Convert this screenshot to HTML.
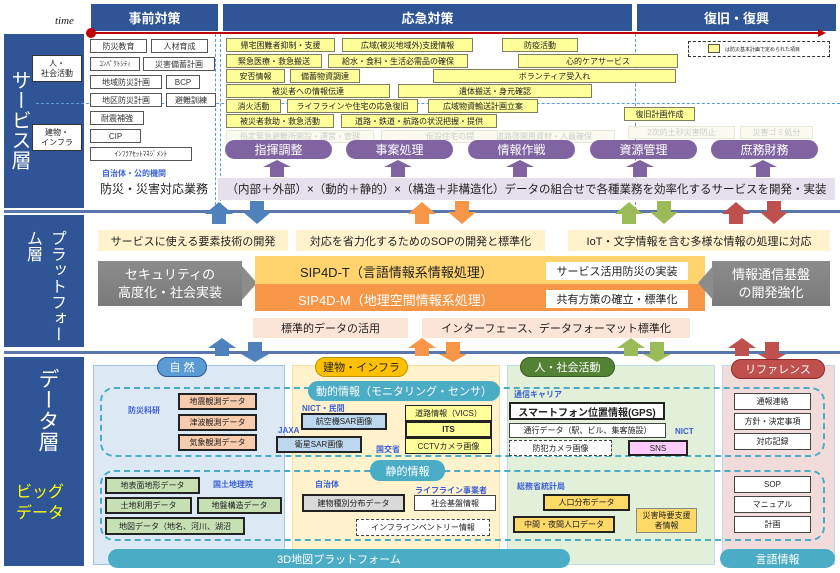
<!DOCTYPE html>
<html><head><meta charset="utf-8">
<style>
*{box-sizing:border-box;margin:0;padding:0}
body{width:840px;height:573px;overflow:hidden;background:#fff;position:relative;font-family:"Liberation Sans","Noto Sans CJK JP",sans-serif;color:#222}
div{position:absolute}
.c{display:flex;align-items:center;justify-content:center;text-align:center;white-space:nowrap}
.hd{background:#2f5597;color:#fff;font-size:13px;font-weight:bold}
.g{border:1px solid #555;background:#fff;font-size:8px;color:#333;height:14px}
.y{border:1px solid #7f7f5f;background:#ffff99;font-size:8px;color:#222;height:14px}
.f{border:1px solid #e8e8d8;background:#fafaf0;font-size:8px;color:#ccc;height:13px}
.pp{background:#8064a2;color:#fff;font-size:12px;border-radius:10px;height:19px}
.bx{border:2px solid #222;font-size:8px;color:#222}
.th{border:1px solid #444;font-size:8px;background:#fff}
.bl{color:#3a5fd6;font-size:8px;font-weight:bold}
.pl{font-size:11px;background:#fff2cc;color:#222}
</style></head><body>
<!-- header -->
<div style="left:55px;top:15px;font-family:'Liberation Serif',serif;font-style:italic;font-size:11px">time</div>
<div class="c hd" style="left:91px;top:4px;width:127px;height:27px">事前対策</div>
<div class="c hd" style="left:223px;top:4px;width:409px;height:27px">応急対策</div>
<div class="c hd" style="left:637px;top:4px;width:199px;height:27px">復旧・復興</div>
<div style="left:91px;top:32px;width:730px;height:2px;background:#c00000"></div>
<div style="left:818px;top:29px;width:0;height:0;border-left:8px solid #c00000;border-top:4px solid transparent;border-bottom:4px solid transparent"></div>
<div style="left:86px;top:28px;width:10px;height:10px;border-radius:50%;background:#c00000"></div>

<!-- service layer left -->
<div style="left:4px;top:34px;width:80px;height:174px;background:#2f5597"></div>
<div style="left:8px;top:70px;width:22px;color:#fff;font-size:20px;line-height:22px;writing-mode:vertical-rl">サービス層</div>
<div class="c" style="left:32px;top:55px;width:50px;height:27px;background:#fff;border:1px solid #333;font-size:8px;line-height:10px;white-space:normal">人・<br>社会活動</div>
<div class="c" style="left:32px;top:124px;width:50px;height:27px;background:#fff;border:1px solid #333;font-size:8px;line-height:10px;white-space:normal">建物・<br>インフラ</div>
<div style="left:36px;top:103px;width:804px;border-top:1px dashed #5b9bd5"></div>
<div style="left:220px;top:34px;height:172px;border-left:1px dashed #5b9bd5"></div>
<div style="left:215px;top:34px;height:176px;border-left:1px dashed #5b9bd5"></div>
<div style="left:635px;top:34px;height:176px;border-left:1px dashed #5b9bd5"></div>

<!-- pre-measures -->
<div class="c g" style="left:90px;top:39px;width:57px">防災教育</div>
<div class="c g" style="left:151px;top:39px;width:57px">人材育成</div>
<div class="c g" style="left:90px;top:57px;width:50px;font-size:7px">ｺﾝﾊﾟｸﾄｼﾃｨ</div>
<div class="c g" style="left:143px;top:57px;width:72px">災害備蓄計画</div>
<div class="c g" style="left:90px;top:75px;width:72px">地域防災計画</div>
<div class="c g" style="left:166px;top:75px;width:34px">BCP</div>
<div class="c g" style="left:90px;top:93px;width:72px">地区防災計画</div>
<div class="c g" style="left:166px;top:93px;width:50px">避難訓練</div>
<div class="c g" style="left:90px;top:111px;width:54px">耐震補強</div>
<div class="c g" style="left:90px;top:129px;width:51px">CIP</div>
<div class="c g" style="left:90px;top:147px;width:102px;font-size:7px">ｲﾝﾌﾗｱｾｯﾄﾏﾈｼﾞﾒﾝﾄ</div>
<div class="bl" style="left:102px;top:168px">自治体・公的機関</div>
<div style="left:100px;top:180px;font-size:12px">防災・災害対応業務</div>

<!-- response yellow -->
<div class="c y" style="left:226px;top:38px;width:109px">帰宅困難者抑制・支援</div>
<div class="c y" style="left:342px;top:38px;width:131px">広域(被災地域外)支援情報</div>
<div class="c y" style="left:502px;top:38px;width:76px">防疫活動</div>
<div class="c y" style="left:226px;top:54px;width:96px">緊急医療・救急搬送</div>
<div class="c y" style="left:328px;top:54px;width:140px">給水・食料・生活必需品の確保</div>
<div class="c y" style="left:518px;top:54px;width:160px">心的ケアサービス</div>
<div class="c y" style="left:226px;top:69px;width:59px">安否情報</div>
<div class="c y" style="left:290px;top:69px;width:70px">備蓄物資調達</div>
<div class="c y" style="left:433px;top:69px;width:243px">ボランティア受入れ</div>
<div class="c y" style="left:226px;top:84px;width:164px">被災者への情報伝達</div>
<div class="c y" style="left:398px;top:84px;width:194px">遺体搬送・身元確認</div>
<div class="c y" style="left:226px;top:99px;width:55px">消火活動</div>
<div class="c y" style="left:287px;top:99px;width:131px">ライフラインや住宅の応急復旧</div>
<div class="c y" style="left:428px;top:99px;width:110px">広域物資輸送計画立案</div>
<div class="c y" style="left:226px;top:114px;width:108px">被災者救助・救急活動</div>
<div class="c y" style="left:341px;top:114px;width:156px">道路・鉄道・航路の状況把握・提供</div>
<div class="c f" style="left:226px;top:130px;width:148px">指定緊急避難所開設・運営・管理</div>
<div class="c f" style="left:381px;top:130px;width:146px">仮設住宅の提供</div>
<div class="c f" style="left:473px;top:130px;width:142px">道路啓開用資材・人員確保</div>
<div class="c y" style="left:624px;top:107px;width:71px">復旧計画作成</div>
<div class="c f" style="left:628px;top:126px;width:107px">2次的土砂災害防止</div>
<div class="c f" style="left:740px;top:126px;width:73px">災害ゴミ処分</div>
<div style="left:688px;top:41px;width:142px;height:16px;border:1px dashed #333;font-size:5px;padding:4px 0 0 36px">は防災基本計画で定められた項目</div>
<div style="left:708px;top:44px;width:12px;height:9px;background:#ffff99;border:1px solid #555"></div>

<!-- purple pills -->
<div class="c pp" style="left:225px;top:140px;width:107px">指揮調整</div>
<div class="c pp" style="left:346px;top:140px;width:107px">事案処理</div>
<div class="c pp" style="left:468px;top:140px;width:107px">情報作戦</div>
<div class="c pp" style="left:590px;top:140px;width:107px">資源管理</div>
<div class="c pp" style="left:711px;top:140px;width:107px">庶務財務</div>
<svg style="position:absolute;left:0;top:0" width="840" height="573">
<g fill="#8064a2">
<polygon points="263,167 291,167 277,160"/><rect x="270" y="166" width="14" height="11"/>
<polygon points="384,167 412,167 398,160"/><rect x="391" y="166" width="14" height="11"/>
<polygon points="506,167 534,167 520,160"/><rect x="513" y="166" width="14" height="11"/>
<polygon points="626,167 654,167 640,160"/><rect x="633" y="166" width="14" height="11"/>
<polygon points="749,167 777,167 763,160"/><rect x="756" y="166" width="14" height="11"/>
</g>
</svg>
<div class="c" style="left:218px;top:178px;width:617px;height:22px;background:#e6e0ec;font-size:11.5px">（内部＋外部）×（動的＋静的）×（構造＋非構造化）データの組合せで各種業務を効率化するサービスを開発・実装</div>

<!-- separator lines -->
<div style="left:4px;top:210px;width:836px;height:3px;background:#2f5597;opacity:.8"></div>
<div style="left:4px;top:351px;width:836px;height:3px;background:#2f5597;opacity:.8"></div>

<!-- arrows between layers -->
<svg style="position:absolute;left:0;top:0" width="840" height="573">
<g>
<polygon fill="#4f81bd" points="205,214 233,214 219,202"/><rect fill="#4f81bd" x="212" y="213" width="14" height="11"/>
<polygon fill="#4f81bd" points="243,212 271,212 257,224"/><rect fill="#4f81bd" x="250" y="201" width="14" height="12"/>
<polygon fill="#f79646" points="408,214 436,214 422,202"/><rect fill="#f79646" x="415" y="213" width="14" height="11"/>
<polygon fill="#f79646" points="448,212 476,212 462,224"/><rect fill="#f79646" x="455" y="201" width="14" height="12"/>
<polygon fill="#9bbb59" points="615,214 643,214 629,202"/><rect fill="#9bbb59" x="622" y="213" width="14" height="11"/>
<polygon fill="#9bbb59" points="650,212 678,212 664,224"/><rect fill="#9bbb59" x="657" y="201" width="14" height="12"/>
<polygon fill="#c0504d" points="722,214 750,214 736,202"/><rect fill="#c0504d" x="729" y="213" width="14" height="11"/>
<polygon fill="#c0504d" points="760,212 788,212 774,224"/><rect fill="#c0504d" x="767" y="201" width="14" height="12"/>

<polygon fill="#4f81bd" points="208,348 236,348 222,338"/><rect fill="#4f81bd" x="215" y="347" width="14" height="9"/>
<rect fill="#4f81bd" x="248" y="342" width="14" height="12"/><polygon fill="#4f81bd" points="241,354 269,354 255,362"/>
<polygon fill="#f79646" points="408,348 436,348 422,338"/><rect fill="#f79646" x="415" y="347" width="14" height="9"/>
<rect fill="#f79646" x="446" y="342" width="14" height="12"/><polygon fill="#f79646" points="439,354 467,354 453,362"/>
<polygon fill="#9bbb59" points="617,348 645,348 631,338"/><rect fill="#9bbb59" x="624" y="347" width="14" height="9"/>
<rect fill="#9bbb59" x="650" y="342" width="14" height="12"/><polygon fill="#9bbb59" points="643,354 671,354 657,362"/>
<polygon fill="#c0504d" points="728,348 756,348 742,338"/><rect fill="#c0504d" x="735" y="347" width="14" height="9"/>
<rect fill="#c0504d" x="765" y="342" width="14" height="12"/><polygon fill="#c0504d" points="758,354 786,354 772,362"/>
</g>
</svg>

<!-- platform layer -->
<div style="left:4px;top:215px;width:80px;height:132px;background:#2f5597"></div>
<div style="left:20px;top:230px;height:116px;color:#fff;font-size:16px;line-height:24px;writing-mode:vertical-rl">プラットフォーム層</div>
<div class="c pl" style="left:98px;top:230px;width:190px;height:21px">サービスに使える要素技術の開発</div>
<div class="c pl" style="left:296px;top:230px;width:249px;height:21px">対応を省力化するためのSOPの開発と標準化</div>
<div class="c pl" style="left:568px;top:230px;width:262px;height:21px">IoT・文字情報を含む多様な情報の処理に対応</div>
<div class="c" style="left:98px;top:261px;width:144px;height:45px;background:linear-gradient(#8c8c8c,#7a7a7a);color:#fff;font-size:13px;line-height:18px;white-space:normal">セキュリティの<br>高度化・社会実装</div>
<div style="left:242px;top:266px;width:0;height:0;border-left:15px solid #8c8c8c;border-top:17px solid transparent;border-bottom:17px solid transparent"></div>
<div style="left:255px;top:256px;width:450px;height:28px;background:#ffd36e"></div>
<div style="left:255px;top:284px;width:450px;height:27px;background:#f79646"></div>
<div style="left:300px;top:262px;font-size:13px;color:#222">SIP4D-T（言語情報系情報処理）</div>
<div style="left:298px;top:290px;font-size:13px;color:#fff">SIP4D-M（地理空間情報系処理）</div>
<div class="c" style="left:546px;top:262px;width:142px;height:18px;background:#fff;font-size:11px">サービス活用防災の実装</div>
<div class="c" style="left:546px;top:290px;width:142px;height:18px;background:#fff;font-size:11px">共有方策の確立・標準化</div>
<div class="c" style="left:712px;top:261px;width:118px;height:45px;background:linear-gradient(#8c8c8c,#7a7a7a);color:#fff;font-size:13px;line-height:18px;white-space:normal">情報通信基盤<br>の開発強化</div>
<div style="left:698px;top:266px;width:0;height:0;border-right:15px solid #8c8c8c;border-top:17px solid transparent;border-bottom:17px solid transparent"></div>
<div class="c" style="left:253px;top:318px;width:155px;height:20px;background:#fce4d6;font-size:11px">標準的データの活用</div>
<div class="c" style="left:422px;top:318px;width:268px;height:20px;background:#fce4d6;font-size:11px">インターフェース、データフォーマット標準化</div>

<!-- data layer -->
<div style="left:4px;top:357px;width:80px;height:209px;background:#2f5597"></div>
<div style="left:36px;top:368px;color:#fff;font-size:21px;line-height:22px;writing-mode:vertical-rl">データ層</div>
<div style="left:16px;top:482px;color:#ffff00;font-size:16px;line-height:21px">ビッグ<br>データ</div>

<div style="left:93px;top:365px;width:192px;height:200px;background:#dde8f5;border:1px solid #9dc3e6"></div>
<div style="left:292px;top:365px;width:208px;height:200px;background:#fff2cc;border:1px solid #f4dca0"></div>
<div style="left:507px;top:365px;width:208px;height:200px;background:#e2efd9;border:1px solid #bdd7ee"></div>
<div style="left:722px;top:365px;width:113px;height:200px;background:#f2dcdb;border:1px solid #bdd7ee"></div>
<div class="c" style="left:157px;top:357px;width:50px;height:20px;border-radius:10px;background:#5b9bd5;border:1px solid #2f5597;color:#fff;font-size:11px">自 然</div>
<div class="c" style="left:315px;top:357px;width:93px;height:20px;border-radius:10px;background:#ffc000;border:1px solid #c09000;font-size:11px">建物・インフラ</div>
<div class="c" style="left:520px;top:357px;width:95px;height:20px;border-radius:10px;background:#548235;border:1px solid #385723;color:#fff;font-size:11px">人・社会活動</div>
<div class="c" style="left:731px;top:359px;width:94px;height:20px;border-radius:10px;background:#c0504d;border:1px solid #8b2b2b;color:#fff;font-size:11px">リファレンス</div>

<div style="left:100px;top:387px;width:725px;height:70px;border:2px dashed #4bacc6;border-radius:14px"></div>
<div style="left:100px;top:470px;width:725px;height:71px;border:2px dashed #4bacc6;border-radius:14px"></div>
<div class="c" style="left:308px;top:381px;width:192px;height:20px;border-radius:10px;background:#4bacc6;color:#fff;font-size:11px">動的情報（モニタリング・センサ）</div>
<div class="c" style="left:370px;top:460px;width:75px;height:21px;border-radius:10px;background:#4bacc6;color:#fff;font-size:11px">静的情報</div>
<div class="c" style="left:108px;top:549px;width:462px;height:19px;border-radius:10px;background:#4bacc6;color:#fff;font-size:11px">3D地図プラットフォーム</div>
<div class="c" style="left:720px;top:549px;width:115px;height:19px;border-radius:10px;background:#4bacc6;color:#fff;font-size:11px">言語情報</div>

<!-- nature -->
<div class="bl" style="left:128px;top:405px">防災科研</div>
<div class="c bx" style="left:178px;top:393px;width:79px;height:17px;background:#f8cbad">地震観測データ</div>
<div class="c bx" style="left:178px;top:414px;width:79px;height:17px;background:#f8cbad">津波観測データ</div>
<div class="c bx" style="left:178px;top:434px;width:79px;height:17px;background:#f8cbad">気象観測データ</div>
<div class="c bx" style="left:105px;top:477px;width:95px;height:17px;background:#c6e0b4">地表面地形データ</div>
<div class="bl" style="left:213px;top:479px">国土地理院</div>
<div class="c bx" style="left:105px;top:497px;width:87px;height:17px;background:#c6e0b4">土地利用データ</div>
<div class="c bx" style="left:197px;top:497px;width:85px;height:17px;background:#c6e0b4">地盤構造データ</div>
<div class="c bx" style="left:105px;top:517px;width:140px;height:18px;background:#c6e0b4">地図データ（地名、河川、湖沼</div>

<!-- buildings -->
<div class="bl" style="left:302px;top:403px">NICT・民間</div>
<div class="c bx" style="left:301px;top:413px;width:86px;height:17px;background:#bdd7ee">航空機SAR画像</div>
<div class="bl" style="left:278px;top:426px">JAXA</div>
<div class="c bx" style="left:276px;top:436px;width:86px;height:17px;background:#bdd7ee">衛星SAR画像</div>
<div class="bl" style="left:376px;top:444px">国交省</div>
<div class="c bx" style="left:405px;top:405px;width:87px;height:16px;background:#ffff99;border-width:1px">道路情報（VICS）</div>
<div class="c bx" style="left:405px;top:421px;width:87px;height:17px;background:#ffff99;font-weight:bold">ITS</div>
<div class="c bx" style="left:405px;top:438px;width:87px;height:16px;background:#ffff99;border-width:1px">CCTVカメラ画像</div>
<div class="bl" style="left:315px;top:479px">自治体</div>
<div class="c bx" style="left:302px;top:494px;width:103px;height:18px;background:#d9d9d9">建物種別分布データ</div>
<div class="bl" style="left:415px;top:485px">ライフライン事業者</div>
<div class="c th" style="left:414px;top:495px;width:82px;height:16px">社会基盤情報</div>
<div class="c" style="left:356px;top:519px;width:134px;height:17px;border:1px dashed #444;background:#fff;font-size:8px">インフラインベントリー情報</div>

<!-- people -->
<div class="bl" style="left:514px;top:389px">通信キャリア</div>
<div class="c bx" style="left:509px;top:402px;width:156px;height:18px;background:#fff;font-size:10px;font-weight:bold">スマートフォン位置情報(GPS)</div>
<div class="c th" style="left:509px;top:423px;width:157px;height:15px">通行データ（駅、ビル、集客施設）</div>
<div class="bl" style="left:675px;top:427px">NICT</div>
<div class="c" style="left:509px;top:440px;width:103px;height:16px;border:1px dashed #444;background:#fff;font-size:8px">防犯カメラ画像</div>
<div class="c bx" style="left:628px;top:440px;width:60px;height:16px;background:#ffccff">SNS</div>
<div class="bl" style="left:517px;top:481px">総務省統計局</div>
<div class="c bx" style="left:543px;top:494px;width:87px;height:17px;background:#ffd966">人口分布データ</div>
<div class="c bx" style="left:513px;top:516px;width:102px;height:17px;background:#ffd966">中間・夜間人口データ</div>
<div class="c" style="left:636px;top:508px;width:61px;height:25px;background:#ffd966;border:1px solid #888;font-size:8px;line-height:10px;white-space:normal">災害時要支援<br>者情報</div>

<!-- reference -->
<div class="c th" style="left:734px;top:393px;width:77px;height:17px">通報連絡</div>
<div class="c th" style="left:734px;top:413px;width:77px;height:17px">方針・決定事項</div>
<div class="c th" style="left:734px;top:433px;width:77px;height:17px">対応記録</div>
<div class="c th" style="left:734px;top:476px;width:77px;height:17px">SOP</div>
<div class="c th" style="left:734px;top:496px;width:77px;height:17px">マニュアル</div>
<div class="c th" style="left:734px;top:516px;width:77px;height:17px">計画</div>
</body></html>
